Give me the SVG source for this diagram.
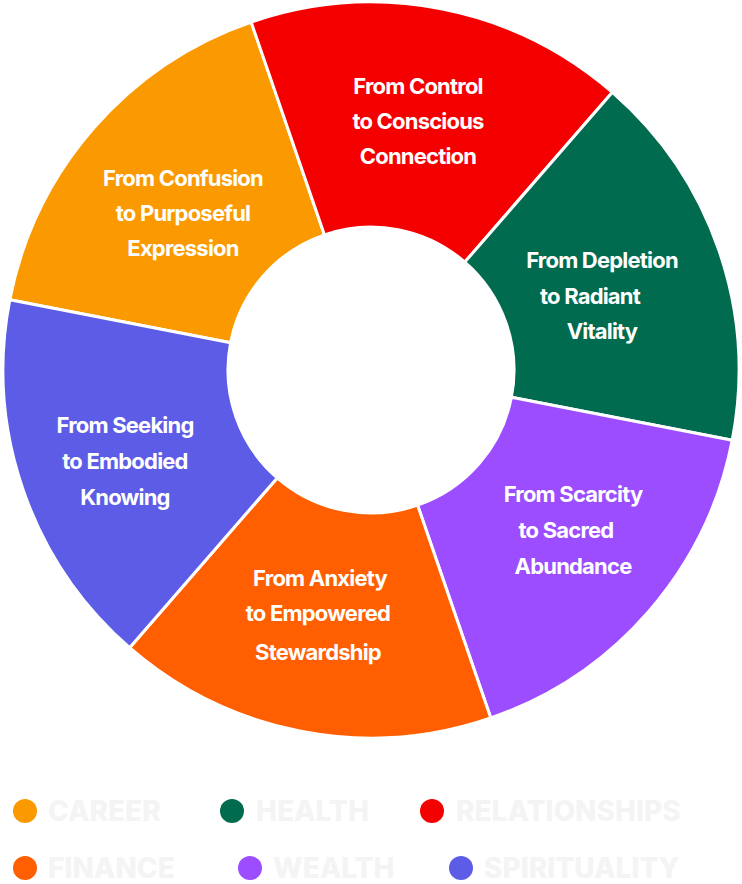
<svg xmlns="http://www.w3.org/2000/svg" width="742" height="884" viewBox="0 0 742 884">
<style>
.seg{stroke:#fff;stroke-width:3;stroke-linejoin:round}
.lbl{font-family:Inter,"Liberation Sans",sans-serif;font-weight:700;font-size:22px;fill:#fff;text-anchor:middle;letter-spacing:-0.8px}
.leg{font-family:Inter,"Liberation Sans",sans-serif;font-weight:800;font-size:28px;fill:#f4f4f4}
</style>
<rect width="742" height="884" fill="#fff"/>
<g id="career"><path class="seg" fill="#FB9A00" d="M9.8 299.8 A368 368 0 0 1 251.2 22.1 L324.4 234.8 A143 143 0 0 0 230.6 342.7 Z"/>
<text class="lbl"><tspan x="183" y="186">From Confusion</tspan><tspan x="183" y="221">to Purposeful</tspan><tspan x="183" y="256">Expression</tspan></text></g>
<g id="relationships"><path class="seg" fill="#F50000" d="M251.2 22.1 A368 368 0 0 1 612.4 92.3 L464.8 262.1 A143 143 0 0 0 324.4 234.8 Z"/>
<text class="lbl"><tspan x="418" y="94">From Control</tspan><tspan x="418" y="129">to Conscious</tspan><tspan x="418" y="164">Connection</tspan></text></g>
<g id="health"><path class="seg" fill="#006B4F" d="M612.4 92.3 A368 368 0 0 1 732.2 440.2 L511.4 397.3 A143 143 0 0 0 464.8 262.1 Z"/>
<text class="lbl"><tspan x="602" y="268">From Depletion</tspan><tspan x="590" y="304">to Radiant</tspan><tspan x="602" y="339">Vitality</tspan></text></g>
<g id="wealth"><path class="seg" fill="#9B4DFF" d="M732.2 440.2 A368 368 0 0 1 490.8 717.9 L417.6 505.2 A143 143 0 0 0 511.4 397.3 Z"/>
<text class="lbl"><tspan x="573" y="502">From Scarcity</tspan><tspan x="566" y="538">to Sacred</tspan><tspan x="573" y="574">Abundance</tspan></text></g>
<g id="finance"><path class="seg" fill="#FF5F00" d="M490.8 717.9 A368 368 0 0 1 129.6 647.7 L277.2 477.9 A143 143 0 0 0 417.6 505.2 Z"/>
<text class="lbl"><tspan x="320" y="586">From Anxiety</tspan><tspan x="318" y="621">to Empowered</tspan><tspan x="318" y="660">Stewardship</tspan></text></g>
<g id="spirituality"><path class="seg" fill="#5C5CE6" d="M129.6 647.7 A368 368 0 0 1 9.8 299.8 L230.6 342.7 A143 143 0 0 0 277.2 477.9 Z"/>
<text class="lbl"><tspan x="125" y="433">From Seeking</tspan><tspan x="125" y="469">to Embodied</tspan><tspan x="125" y="505">Knowing</tspan></text></g>
<g id="connectors"></g>
<g id="legend">
<circle cx="25" cy="811" r="12" fill="#FB9A00"/><text class="leg" x="48" y="821">CAREER</text>
<circle cx="232" cy="811" r="12" fill="#006B4F"/><text class="leg" x="256" y="821">HEALTH</text>
<circle cx="432" cy="811" r="12" fill="#F50000"/><text class="leg" x="456" y="821">RELATIONSHIPS</text>
<circle cx="25" cy="868" r="12" fill="#FF5F00"/><text class="leg" x="48" y="878">FINANCE</text>
<circle cx="250" cy="868" r="12" fill="#9B4DFF"/><text class="leg" x="273" y="878">WEALTH</text>
<circle cx="461" cy="868" r="12" fill="#5C5CE6"/><text class="leg" x="484" y="878">SPIRITUALITY</text>
</g>
</svg>
